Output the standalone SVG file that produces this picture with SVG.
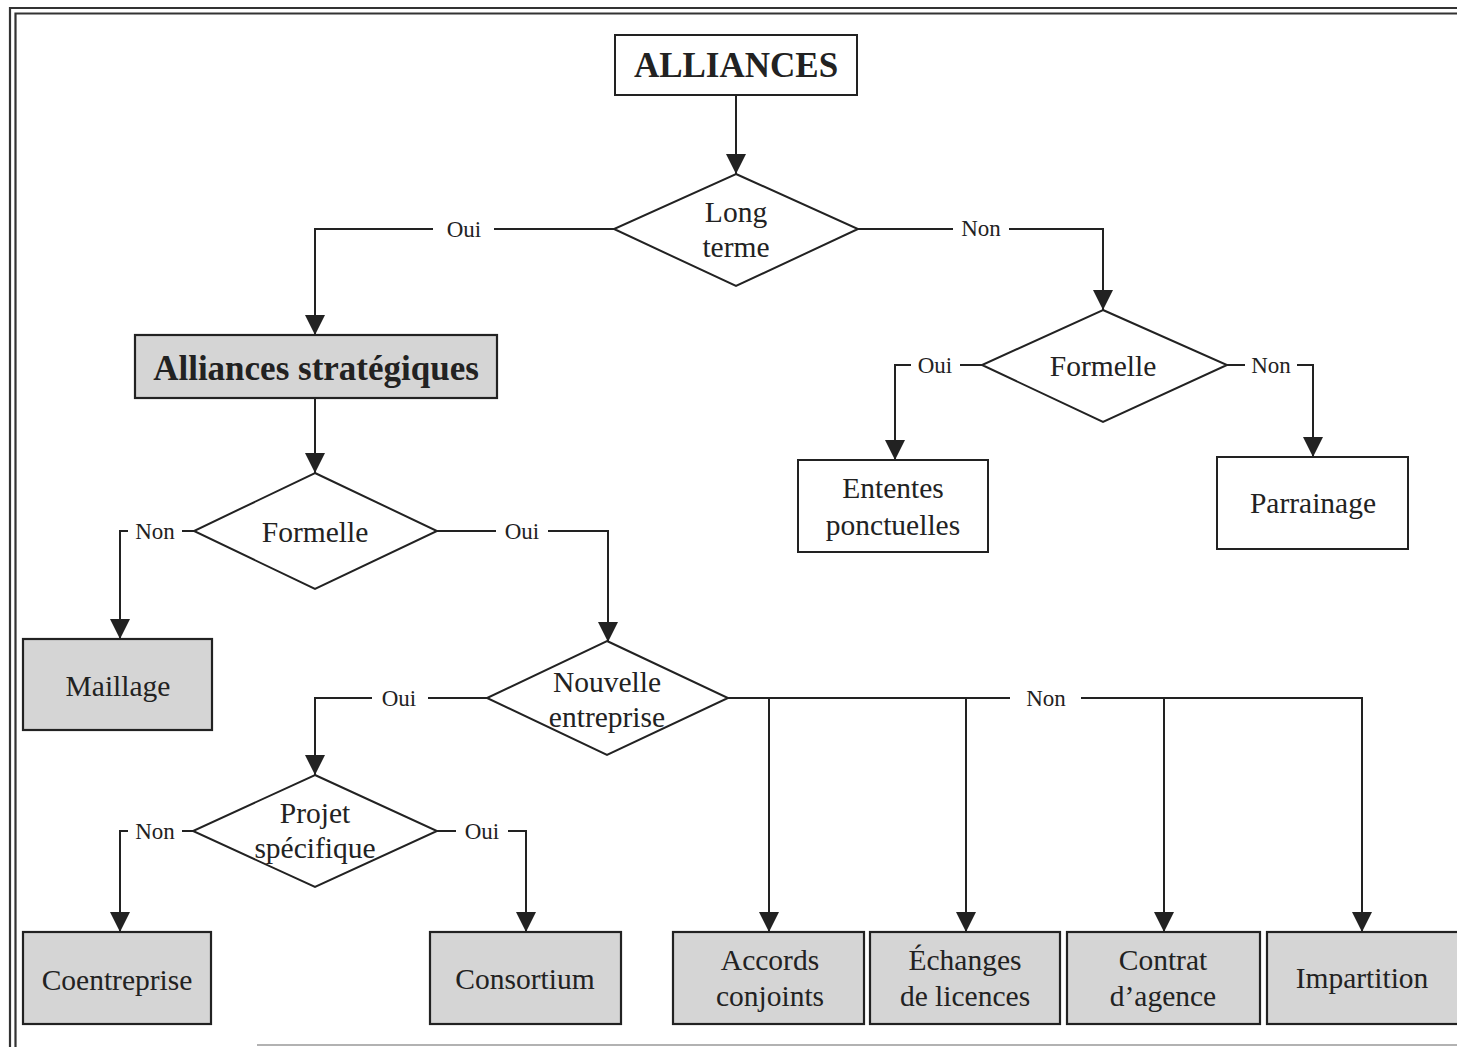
<svg xmlns="http://www.w3.org/2000/svg" width="1457" height="1047" viewBox="0 0 1457 1047">
<style>
.frame{fill:none;stroke:#333;stroke-width:2.2}
.box{fill:#fff;stroke:#222;stroke-width:2}
.gbox{fill:#d5d5d5;stroke:#222;stroke-width:2.2}
.dia{fill:#fff;stroke:#222;stroke-width:2}
.c{fill:none;stroke:#222;stroke-width:2}
.t{font-family:"Liberation Serif","Times New Roman",serif;fill:#222;text-anchor:middle}
.n{font-size:29.5px}
.b{font-size:35px;font-weight:bold}
.l{font-size:23px}
</style>
<defs>
<marker id="ah" markerUnits="userSpaceOnUse" markerWidth="20" markerHeight="20" refX="20" refY="10" orient="auto" viewBox="0 0 20 20">
<path d="M0,0 L20,10 L0,20 z" fill="#222"/>
</marker>
</defs>
<rect width="1457" height="1047" fill="#fff"/>
<g id="frame">
<path class="frame" d="M10,1047 L10,8 L1457,8"/>
<path class="frame" d="M15.5,1047 L15.5,13.5 L1457,13.5"/>
<path d="M257,1045 L1457,1045" stroke="#999" stroke-width="1.5" fill="none"/>
</g>
<g id="connectors">
<path class="c" d="M736,95 L736,174" marker-end="url(#ah)"/>
<path class="c" d="M614,229 L494,229"/>
<path class="c" d="M433,229 L315,229 L315,335" marker-end="url(#ah)"/>
<path class="c" d="M858,229 L953,229"/>
<path class="c" d="M1009,229 L1103,229 L1103,310" marker-end="url(#ah)"/>
<path class="c" d="M315,398 L315,473" marker-end="url(#ah)"/>
<path class="c" d="M194,531 L182,531"/>
<path class="c" d="M128,531 L120,531 L120,639" marker-end="url(#ah)"/>
<path class="c" d="M437,531 L496,531"/>
<path class="c" d="M548,531 L608,531 L608,642" marker-end="url(#ah)"/>
<path class="c" d="M487,698 L428,698"/>
<path class="c" d="M372,698 L315,698 L315,775" marker-end="url(#ah)"/>
<path class="c" d="M728,698 L1010,698"/>
<path class="c" d="M1081,698 L1362,698 L1362,932" marker-end="url(#ah)"/>
<path class="c" d="M769,698 L769,932" marker-end="url(#ah)"/>
<path class="c" d="M966,698 L966,932" marker-end="url(#ah)"/>
<path class="c" d="M1164,698 L1164,932" marker-end="url(#ah)"/>
<path class="c" d="M193,831 L182,831"/>
<path class="c" d="M128,831 L120,831 L120,932" marker-end="url(#ah)"/>
<path class="c" d="M437,831 L456,831"/>
<path class="c" d="M508,831 L526,831 L526,932" marker-end="url(#ah)"/>
<path class="c" d="M982,365 L960,365"/>
<path class="c" d="M911,365 L895,365 L895,460" marker-end="url(#ah)"/>
<path class="c" d="M1227,365 L1245,365"/>
<path class="c" d="M1297,365 L1313,365 L1313,457" marker-end="url(#ah)"/>
<text class="t l" x="464" y="237">Oui</text>
<text class="t l" x="981" y="236">Non</text>
<text class="t l" x="155" y="539">Non</text>
<text class="t l" x="522" y="539">Oui</text>
<text class="t l" x="399" y="706">Oui</text>
<text class="t l" x="1046" y="706">Non</text>
<text class="t l" x="155" y="839">Non</text>
<text class="t l" x="482" y="839">Oui</text>
<text class="t l" x="935" y="373">Oui</text>
<text class="t l" x="1271" y="373">Non</text>
</g>
<g id="alliances">
<rect class="box" x="615" y="35" width="242" height="60"/>
<text class="t b" x="736" y="77">ALLIANCES</text>
</g>
<g id="long-terme">
<polygon class="dia" points="736,174 858,229 736,286 614,229"/>
<text class="t n" x="736" y="222">Long</text>
<text class="t n" x="736" y="257">terme</text>
</g>
<g id="alliances-strategiques">
<rect class="gbox" x="135" y="335" width="362" height="63"/>
<text class="t b" x="316" y="380" font-size="36.5">Alliances stratégiques</text>
</g>
<g id="formelle-right">
<polygon class="dia" points="1103,310 1227,365 1103,422 982,365"/>
<text class="t n" x="1103" y="376">Formelle</text>
</g>
<g id="ententes-ponctuelles">
<rect class="box" x="798" y="460" width="190" height="92"/>
<text class="t n" x="893" y="498">Ententes</text>
<text class="t n" x="893" y="535">ponctuelles</text>
</g>
<g id="parrainage">
<rect class="box" x="1217" y="457" width="191" height="92"/>
<text class="t n" x="1313" y="513">Parrainage</text>
</g>
<g id="formelle-left">
<polygon class="dia" points="315,473 437,531 315,589 194,531"/>
<text class="t n" x="315" y="542">Formelle</text>
</g>
<g id="maillage">
<rect class="gbox" x="23" y="639" width="189" height="91"/>
<text class="t n" x="118" y="696">Maillage</text>
</g>
<g id="nouvelle-entreprise">
<polygon class="dia" points="607,641 728,698 607,755 487,698"/>
<text class="t n" x="607" y="692">Nouvelle</text>
<text class="t n" x="607" y="727">entreprise</text>
</g>
<g id="projet-specifique">
<polygon class="dia" points="315,775 437,831 315,887 193,831"/>
<text class="t n" x="315" y="823">Projet</text>
<text class="t n" x="315" y="858">spécifique</text>
</g>
<g id="coentreprise">
<rect class="gbox" x="23" y="932" width="188" height="92"/>
<text class="t n" x="117" y="990">Coentreprise</text>
</g>
<g id="consortium">
<rect class="gbox" x="430" y="932" width="191" height="92"/>
<text class="t n" x="525" y="989">Consortium</text>
</g>
<g id="accords-conjoints">
<rect class="gbox" x="673" y="932" width="191" height="92"/>
<text class="t n" x="770" y="970">Accords</text>
<text class="t n" x="770" y="1006">conjoints</text>
</g>
<g id="echanges-de-licences">
<rect class="gbox" x="870" y="932" width="190" height="92"/>
<text class="t n" x="965" y="970">Échanges</text>
<text class="t n" x="965" y="1006">de licences</text>
</g>
<g id="contrat-agence">
<rect class="gbox" x="1067" y="932" width="193" height="92"/>
<text class="t n" x="1163" y="970">Contrat</text>
<text class="t n" x="1163" y="1006">d’agence</text>
</g>
<g id="impartition">
<rect class="gbox" x="1267" y="932" width="195" height="92"/>
<text class="t n" x="1362" y="988">Impartition</text>
</g>
</svg>
